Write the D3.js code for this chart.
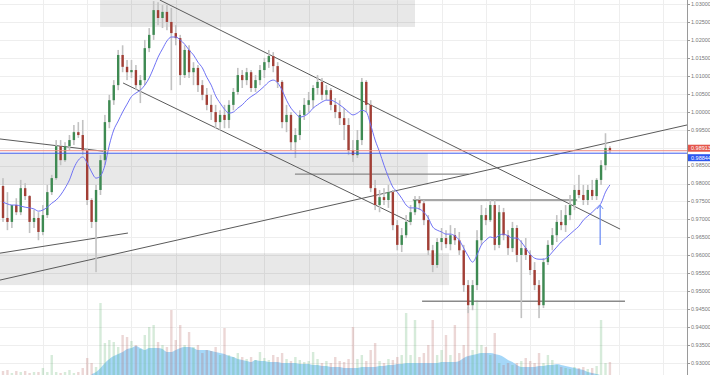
<!DOCTYPE html>
<html>
<head>
<meta charset="utf-8">
<script src="https://cdn.jsdelivr.net/npm/d3@7"></script>
<style>
body { margin: 0; background: #fff; }
svg { display: block; font-family: "Liberation Sans", Arial, sans-serif; }
</style>
</head>
<body>
<svg width="710" height="375"></svg>
<script>
// OHLC per candle
var opens = [0.9793,0.9704,0.9693,0.9740,0.9720,0.9787,0.9765,0.9693,0.9704,0.9665,
0.9712,0.9776,0.9815,0.9904,0.9865,0.9904,0.9921,0.9943,0.9935,0.9893,
0.9754,0.9693,0.9782,0.9865,0.9971,1.0032,1.0074,1.0158,1.0125,1.0110,
1.0116,1.0074,1.0088,1.0177,1.0214,1.0283,1.0261,1.0278,1.0250,1.0219,
1.0205,1.0102,1.0172,1.0110,1.0122,1.0074,1.0047,1.0019,0.9999,0.9971,
0.9991,0.9977,1.0019,1.0055,1.0102,1.0088,1.0110,1.0066,1.0088,1.0116,
1.0138,1.0155,1.0127,1.0083,0.9971,0.9991,0.9915,0.9935,0.9991,1.0019,
1.0032,1.0066,1.0083,1.0047,1.0060,1.0019,0.9999,0.9982,0.9963,0.9893,
0.9879,0.9921,1.0083,1.0019,0.9787,0.9740,0.9762,0.9754,0.9776,0.9684,
0.9629,0.9656,0.9693,0.9720,0.9754,0.9745,0.9698,0.9614,0.9573,0.9637,
0.9648,0.9631,0.9656,0.9642,0.9614,0.9517,0.9461,0.9517,0.9642,0.9712,
0.9698,0.9740,0.9629,0.9720,0.9656,0.9620,0.9676,0.9601,0.9620,0.9601,
0.9559,0.9517,0.9461,0.9581,0.9629,0.9656,0.9693,0.9684,0.9712,0.9740,
0.9782,0.9768,0.9754,0.9782,0.9765,0.9810,0.9851,0.9899];

var highs = [0.9815,0.9776,0.9740,0.9759,0.9810,0.9801,0.9768,0.9726,0.9720,0.9740,
0.9796,0.9824,0.9921,0.9921,0.9915,0.9935,0.9963,0.9971,0.9977,0.9899,
0.9759,0.9796,0.9879,0.9991,1.0047,1.0088,1.0172,1.0185,1.0144,1.0144,
1.0130,1.0102,1.0200,1.0233,1.0308,1.0305,1.0297,1.0297,1.0289,1.0241,
1.0214,1.0185,1.0185,1.0138,1.0130,1.0088,1.0066,1.0047,1.0019,1.0004,
1.0019,1.0032,1.0066,1.0122,1.0116,1.0122,1.0116,1.0102,1.0130,1.0150,
1.0172,1.0166,1.0138,1.0088,1.0019,0.9999,0.9954,1.0004,1.0038,1.0055,
1.0074,1.0102,1.0094,1.0074,1.0066,1.0038,1.0032,1.0010,0.9982,0.9921,
0.9949,1.0094,1.0088,1.0032,0.9810,0.9782,0.9787,0.9796,0.9782,0.9698,
0.9676,0.9712,0.9740,0.9765,0.9765,0.9754,0.9712,0.9629,0.9648,0.9676,
0.9670,0.9684,0.9676,0.9665,0.9629,0.9531,0.9531,0.9670,0.9740,0.9732,
0.9754,0.9754,0.9740,0.9732,0.9670,0.9693,0.9684,0.9642,0.9648,0.9614,
0.9581,0.9531,0.9592,0.9642,0.9676,0.9712,0.9726,0.9740,0.9768,0.9796,
0.9824,0.9796,0.9796,0.9810,0.9815,0.9865,0.9940,0.9904];

var lows = [0.9693,0.9670,0.9676,0.9712,0.9712,0.9754,0.9662,0.9676,0.9642,0.9656,
0.9704,0.9768,0.9810,0.9851,0.9860,0.9893,0.9907,0.9927,0.9879,0.9740,
0.9676,0.9553,0.9768,0.9851,0.9954,1.0019,1.0060,1.0110,1.0088,1.0094,
1.0060,1.0024,1.0074,1.0166,1.0200,1.0241,1.0233,1.0227,1.0060,1.0185,
1.0074,1.0094,1.0094,1.0074,1.0055,1.0032,1.0004,0.9977,0.9954,0.9949,
0.9954,0.9954,1.0004,1.0047,1.0066,1.0074,1.0055,1.0055,1.0074,1.0094,
1.0122,1.0110,1.0066,0.9954,0.9943,0.9893,0.9871,0.9921,0.9977,0.9999,
1.0010,1.0047,1.0032,1.0032,1.0004,0.9982,0.9963,0.9921,0.9879,0.9860,
0.9871,0.9907,0.9999,0.9776,0.9726,0.9720,0.9740,0.9732,0.9670,0.9614,
0.9609,0.9648,0.9684,0.9712,0.9726,0.9684,0.9601,0.9553,0.9565,0.9614,
0.9620,0.9614,0.9629,0.9601,0.9498,0.9439,0.9447,0.9503,0.9629,0.9684,
0.9693,0.9614,0.9620,0.9642,0.9601,0.9609,0.9581,0.9425,0.9587,0.9545,
0.9503,0.9425,0.9453,0.9573,0.9614,0.9637,0.9670,0.9665,0.9698,0.9726,
0.9759,0.9740,0.9740,0.9754,0.9754,0.9796,0.9837,0.9885];

var closes = [0.9704,0.9693,0.9740,0.9720,0.9787,0.9765,0.9693,0.9704,0.9665,0.9712,
0.9776,0.9815,0.9904,0.9865,0.9904,0.9921,0.9943,0.9935,0.9893,0.9754,
0.9693,0.9782,0.9865,0.9971,1.0032,1.0074,1.0158,1.0125,1.0110,1.0116,
1.0074,1.0088,1.0177,1.0214,1.0283,1.0261,1.0278,1.0250,1.0219,1.0205,
1.0102,1.0172,1.0110,1.0122,1.0074,1.0047,1.0019,0.9999,0.9971,0.9991,
0.9977,1.0019,1.0055,1.0102,1.0088,1.0110,1.0066,1.0088,1.0116,1.0138,
1.0155,1.0127,1.0083,0.9971,0.9991,0.9915,0.9935,0.9991,1.0019,1.0032,
1.0066,1.0083,1.0047,1.0060,1.0019,0.9999,0.9982,0.9963,0.9893,0.9879,
0.9921,1.0083,1.0019,0.9787,0.9740,0.9762,0.9754,0.9776,0.9684,0.9629,
0.9656,0.9693,0.9720,0.9754,0.9745,0.9698,0.9614,0.9573,0.9637,0.9648,
0.9631,0.9656,0.9642,0.9614,0.9517,0.9461,0.9517,0.9642,0.9712,0.9698,
0.9740,0.9629,0.9720,0.9656,0.9620,0.9676,0.9601,0.9620,0.9601,0.9559,
0.9517,0.9461,0.9581,0.9629,0.9656,0.9693,0.9684,0.9712,0.9740,0.9782,
0.9768,0.9754,0.9782,0.9765,0.9810,0.9851,0.9899,0.98913];

// blue moving average as drawn
var maLine = [0.9748,0.9743,0.9740,0.9740,0.9737,0.9734,0.9732,0.9729,0.9723,0.9726,
0.9734,0.9745,0.9754,0.9768,0.9787,0.9810,0.9843,0.9865,0.9874,0.9857,
0.9832,0.9815,0.9821,0.9851,0.9907,0.9949,0.9974,0.9999,1.0021,1.0042,
1.0052,1.0060,1.0074,1.0094,1.0122,1.0152,1.0175,1.0197,1.0208,1.0208,
1.0200,1.0188,1.0172,1.0158,1.0138,1.0122,1.0096,1.0074,1.0044,1.0024,
1.0007,0.9996,0.9999,1.0010,1.0019,1.0032,1.0042,1.0050,1.0060,1.0071,
1.0083,1.0088,1.0080,1.0060,1.0032,1.0010,0.9996,0.9985,0.9988,0.9996,
1.0010,1.0019,1.0027,1.0032,1.0032,1.0027,1.0019,1.0010,0.9999,0.9991,
0.9996,1.0004,0.9999,0.9963,0.9921,0.9888,0.9851,0.9818,0.9790,0.9776,
0.9759,0.9740,0.9732,0.9732,0.9729,0.9720,0.9704,0.9679,0.9670,0.9665,
0.9659,0.9659,0.9654,0.9642,0.9620,0.9598,0.9581,0.9601,0.9629,0.9642,
0.9651,0.9648,0.9656,0.9659,0.9654,0.9648,0.9648,0.9637,0.9620,0.9603,
0.9592,0.9589,0.9589,0.9595,0.9609,0.9623,0.9637,0.9648,0.9659,0.9670,
0.9681,0.9698,0.9709,0.9720,0.9732,0.9745,0.9776,0.9796];

// volume per candle and its average (relative units)
var volume = [4,5,2,4,3,4,2,3,3,7,
3,20,3,2,3,5,2,3,7,17,
12,8,72,32,35,33,28,40,38,34,
30,26,40,48,50,33,30,28,65,35,
50,30,43,28,30,22,25,24,28,20,
47,20,18,22,18,16,18,15,23,17,
15,20,18,22,16,14,18,15,13,14,
23,16,12,14,12,18,14,13,16,48,
16,20,14,25,32,14,12,16,15,18,
20,62,20,55,18,22,30,55,20,25,
40,20,50,22,30,68,25,75,30,28,
20,42,12,10,12,10,12,14,17,14,
12,22,12,20,15,10,8,7,6,8,
7,8,6,7,9,55,12,13];

var volumeMa = [null,null,null,null,null,null,null,null,null,null,
null,null,null,null,null,null,null,null,null,null,
1,3,7,12,16,19,21,23,26,27,
29,27,25,27,27,27,26,23,23,25,
27,28,28,27,25,25,25,24,23,22,
21,19,18,16,15,14,13,15,14,14,
13,13,13,12,12,12,12,11,11,11,
10,10,9,9,8,8,8,7,7,7,
7,8,8,8,8,9,9,10,10,11,
11,12,12,12,12,12,12,12,12,13,
13,13,13,14,17,19,20,21,22,22,
22,21,20,18,15,13,10,8,8,8,
8,9,9,10,10,11,10,9,8,7,
6,5,3,2,1,0,0,0];

var priceTicks = [1.030,1.025,1.020,1.015,1.010,1.005,1.000,0.995,0.990,0.985,0.980,
0.975,0.970,0.965,0.960,0.955,0.950,0.945,0.940,0.935,0.930];

var lastPrice = 0.98913;
var bidPrice = 0.98844;

// drawings: [candle index, price] end points
var trendLines = [
  [[35.4, 1.0311], [139.3, 0.9673]],
  [[27.1, 1.0080], [91.9, 0.9693]],
  [[-0.68, 0.9924], [22.6, 0.9890]],
  [[-0.68, 0.9606], [28.2, 0.9662]],
  [[-0.68, 0.9531], [154.4, 0.9963]]
];
var levels = [[65.9, 105.1, 0.9826], [92.5, 129.6, 0.9754], [94.6, 140.4, 0.9472]];
var zones = [[21.9, 93, 1.0311, 1.0236], [-0.68, 95.9, 0.9885, 0.9796], [-0.68, 100.7, 0.9606, 0.9517]];
var arrow = [[134.8, 0.9629], [134.8, 0.9740]];

var svg = d3.select("svg");
var plotW = 687, H = 375;

var x = d3.scaleLinear().domain([-0.68, 154.4]).range([0, plotW]);
var y = d3.scaleLinear().domain([0.93, 1.03]).range([363, 4]);
var yv = d3.scaleLinear().domain([0, 100]).range([H, H - 100]);

svg.append("defs").append("clipPath").attr("id", "plot")
  .append("rect").attr("width", plotW).attr("height", H);

var g = svg.append("g").attr("clip-path", "url(#plot)");

// grid
g.selectAll(".hgrid").data(priceTicks).enter().append("line")
  .attr("x1", 0).attr("x2", plotW)
  .attr("y1", function(d) { return Math.round(y(d)) + 0.5; })
  .attr("y2", function(d) { return Math.round(y(d)) + 0.5; })
  .attr("stroke", "#eeeeee");

g.selectAll(".vgrid").data(d3.range(9, 155, 10)).enter().append("line")
  .attr("x1", function(d) { return Math.round(x(d)) + 0.5; })
  .attr("x2", function(d) { return Math.round(x(d)) + 0.5; })
  .attr("y1", 0).attr("y2", H)
  .attr("stroke", "#eeeeee");

// grey zones
g.selectAll(".zone").data(zones).enter().append("rect")
  .attr("x", function(d) { return x(d[0]); })
  .attr("width", function(d) { return x(d[1]) - x(d[0]); })
  .attr("y", function(d) { return y(d[2]); })
  .attr("height", function(d) { return y(d[3]) - y(d[2]); })
  .attr("fill", "#000").attr("fill-opacity", 0.09);

// volume average area
var idx = d3.range(opens.length);
var area = d3.area()
  .defined(function(i) { return volumeMa[i] != null; })
  .x(function(i) { return x(i); })
  .y0(H)
  .y1(function(i) { return yv(volumeMa[i]); })
  .curve(d3.curveMonotoneX);
g.append("path").datum(idx).attr("d", area)
  .attr("fill", "#8fcdf6").attr("fill-opacity", 0.8);

// volume bars
g.selectAll(".vol").data(idx).enter().append("rect")
  .attr("x", function(i) { return x(i) - 1.2; })
  .attr("width", 2.4)
  .attr("y", function(i) { return yv(volume[i]); })
  .attr("height", function(i) { return H - yv(volume[i]); })
  .attr("fill", function(i) { return closes[i] >= opens[i] ? "#5cae6a" : "#b5605a"; })
  .attr("fill-opacity", 0.25);

// levels and trend lines
g.selectAll(".level").data(levels).enter().append("line")
  .attr("x1", function(d) { return x(d[0]); })
  .attr("x2", function(d) { return x(d[1]); })
  .attr("y1", function(d) { return y(d[2]); })
  .attr("y2", function(d) { return y(d[2]); })
  .attr("stroke", "#8a8a8a").attr("stroke-width", 1.4);

g.selectAll(".trend").data(trendLines).enter().append("line")
  .attr("x1", function(d) { return x(d[0][0]); })
  .attr("y1", function(d) { return y(d[0][1]); })
  .attr("x2", function(d) { return x(d[1][0]); })
  .attr("y2", function(d) { return y(d[1][1]); })
  .attr("stroke", "#5a5a5a").attr("stroke-width", 1);

// candles
var candle = g.selectAll(".candle").data(idx).enter().append("g");
candle.append("rect")
  .attr("x", function(i) { return x(i) - 0.8; })
  .attr("width", 1.6)
  .attr("y", function(i) { return y(highs[i]); })
  .attr("height", function(i) { return Math.max(1, y(lows[i]) - y(highs[i])); })
  .attr("fill", "#c2c2c2");
candle.append("rect")
  .attr("x", function(i) { return x(i) - 1.2; })
  .attr("width", 2.4)
  .attr("y", function(i) { return y(Math.max(opens[i], closes[i])); })
  .attr("height", function(i) { return Math.max(1, Math.abs(y(opens[i]) - y(closes[i]))); })
  .attr("fill", function(i) { return closes[i] >= opens[i] ? "#3e8a52" : "#a23f36"; });

// moving average
var maPath = d3.line()
  .x(function(i) { return x(i); })
  .y(function(i) { return y(maLine[i]); })
  .curve(d3.curveMonotoneX);
g.append("path").datum(idx).attr("d", maPath)
  .attr("fill", "none").attr("stroke", "#6f72f5").attr("stroke-width", 1);

// blue arrow
g.append("line")
  .attr("x1", x(arrow[0][0])).attr("y1", y(arrow[0][1]))
  .attr("x2", x(arrow[1][0])).attr("y2", y(arrow[1][1]))
  .attr("stroke", "#6f8ff5").attr("stroke-width", 1.3);
g.append("path")
  .attr("d", "M" + (x(arrow[1][0]) - 3) + "," + (y(arrow[1][1]) + 4) +
             "L" + x(arrow[1][0]) + "," + y(arrow[1][1]) +
             "L" + (x(arrow[1][0]) + 3) + "," + (y(arrow[1][1]) + 4))
  .attr("fill", "none").attr("stroke", "#6f8ff5").attr("stroke-width", 1);

// price lines
g.append("line").attr("x1", 0).attr("x2", plotW)
  .attr("y1", y(lastPrice)).attr("y2", y(lastPrice))
  .attr("stroke", "#ee8a80").attr("stroke-width", 1);
g.append("line").attr("x1", 0).attr("x2", plotW)
  .attr("y1", y(bidPrice)).attr("y2", y(bidPrice))
  .attr("stroke", "#3c5cf0").attr("stroke-width", 1);

// right price axis
svg.append("line").attr("x1", plotW + 0.5).attr("x2", plotW + 0.5)
  .attr("y1", 0).attr("y2", H).attr("stroke", "#9a9a9a");

var fmt = d3.format(".5f");
var axis = svg.append("g");
axis.selectAll("line").data(priceTicks).enter().append("line")
  .attr("x1", plotW).attr("x2", plotW + 3)
  .attr("y1", function(d) { return Math.round(y(d)) + 0.5; })
  .attr("y2", function(d) { return Math.round(y(d)) + 0.5; })
  .attr("stroke", "#9a9a9a");
axis.selectAll("text").data(priceTicks).enter().append("text")
  .attr("x", plotW + 4)
  .attr("y", function(d) { return y(d); })
  .attr("dy", "0.35em")
  .attr("font-size", 5.5)
  .attr("fill", "#777")
  .text(function(d) { return fmt(d); });

var tags = [[lastPrice, -2.5, "#e4564b"], [bidPrice, 4.5, "#2d57f0"]];
var tag = svg.selectAll(".tag").data(tags).enter().append("g");
tag.append("rect")
  .attr("x", plotW + 1).attr("width", 23)
  .attr("y", function(d) { return y(d[0]) + d[1] - 3.5; })
  .attr("height", 7)
  .attr("fill", function(d) { return d[2]; });
tag.append("text")
  .attr("x", plotW + 4)
  .attr("y", function(d) { return y(d[0]) + d[1]; })
  .attr("dy", "0.35em")
  .attr("font-size", 5.5)
  .attr("fill", "#fff")
  .text(function(d) { return fmt(d[0]); });
</script>
</body>
</html>
